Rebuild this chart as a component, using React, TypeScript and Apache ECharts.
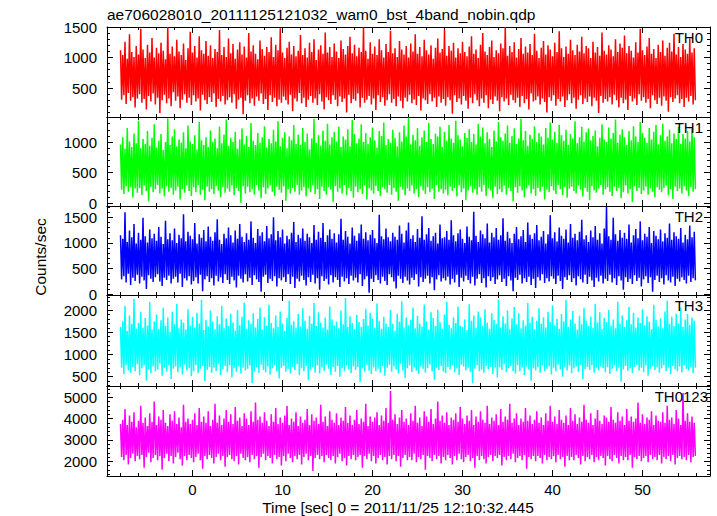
import React, { useEffect, useRef } from 'react';
import * as echarts from 'echarts';

const TITLE = 'ae706028010_20111125121032_wam0_bst_4band_nobin.qdp';
const X_TITLE = 'Time [sec] 0 = 2011/11/25 12:10:32.445';
const Y_TITLE = 'Counts/sec';
const PANEL_LABELS = ['TH0', 'TH1', 'TH2', 'TH3', 'TH0123'];
const COLORS = ['#ff0000', '#00ff00', '#0000ff', '#00ffff', '#ff00ff'];

// time bins (seconds): first bin start and bin width
const T_START = -8;
const T_BIN = 0.125;
const X_MIN = -9.5;
const X_MAX = 57.5;
const X_STEP = 10;

const Y_MIN = [25, -45, -15, 290, 1310];
const Y_MAX = [1500, 1410, 1720, 2340, 5530];
const Y_STEP = [500, 500, 500, 500, 1000];

const TH0 = [
  1120, 310, 1040, 380, 1260, 240, 980, 420, 1380, 290, 1090, 350, 1010, 180, 1190, 330,
  1050, 400, 1470, 260, 1130, 320, 990, 150, 1210, 370, 1080, 280, 1320, 410, 1000, 230,
  1160, 340, 1070, 90, 1240, 300, 1110, 390, 970, 250, 1500, 330, 1060, 200, 1180, 430,
  1020, 290, 1290, 360, 1100, 170, 1040, 310, 1230, 400, 960, 260, 1150, 340, 1420, 220,
  1080, 380, 1190, 280, 1000, 330, 1350, 130, 1120, 390, 1060, 300, 1270, 240, 1030, 350,
  1200, 270, 990, 410, 1140, 190, 1090, 320, 1450, 280, 1040, 370, 1170, 230, 1010, 300,
  1310, 350, 1070, 260, 1220, 400, 980, 160, 1130, 310, 1250, 340, 1050, 70, 1180, 290,
  1000, 380, 1400, 250, 1100, 330, 1200, 210, 1060, 360, 970, 290, 1280, 410, 1140, 240,
  1030, 320, 1170, 140, 1090, 380, 1330, 270, 1010, 340, 1210, 200, 1120, 310, 1480, 260,
  1080, 360, 990, 300, 1160, 230, 1260, 390, 1050, 120, 1190, 330, 1020, 280, 1110, 420,
  1370, 250, 1040, 340, 1150, 190, 1000, 310, 1240, 370, 1090, 260, 1300, 330, 960, 220,
  1130, 400, 1200, 280, 1060, 150, 1410, 350, 1080, 300, 1170, 240, 1010, 380, 1230, 310,
  1100, 200, 990, 360, 1280, 270, 1140, 330, 1050, 100, 1190, 390, 1340, 250, 1070, 320,
  1210, 290, 1020, 410, 1160, 180, 1090, 340, 1490, 260, 1110, 310, 980, 370, 1250, 230,
  1060, 330, 1180, 140, 1040, 380, 1300, 270, 1120, 350, 1000, 210, 1220, 300, 1090, 400,
  1440, 260, 1070, 320, 1150, 200, 1010, 360, 1270, 290, 1130, 170, 1050, 340, 1190, 280,
  1000, 390, 1230, 250, 1100, 310, 1380, 220, 1060, 370, 1170, 130, 1020, 330, 1290, 300,
  1120, 240, 1050, 400, 1200, 280, 980, 340, 1160, 190, 1310, 360, 1080, 260, 1140, 320,
  1460, 210, 1030, 350, 1190, 300, 1110, 80, 1240, 380, 1000, 270, 1150, 330, 1070, 230,
  1260, 370, 1090, 290, 1020, 160, 1180, 340, 1350, 250, 1060, 400, 1130, 300, 990, 200,
  1210, 330, 1400, 260, 1100, 380, 1040, 170, 1170, 310, 1280, 240, 1010, 360, 1120, 290,
  1070, 120, 1230, 350, 1150, 280, 1500, 330, 1030, 220, 1190, 390, 1090, 300, 1250, 260,
  1000, 340, 1140, 190, 1320, 370, 1060, 250, 1180, 320, 1080, 150, 1220, 410, 1040, 280,
  1390, 300, 1110, 360, 990, 230, 1160, 330, 1270, 270, 1050, 100, 1200, 350, 1130, 290,
  1020, 380, 1240, 210, 1090, 320, 1430, 280, 1150, 360, 1010, 190, 1180, 300, 1060, 400,
  1290, 250, 1120, 340, 1040, 160, 1210, 310, 1100, 380, 1340, 240, 1070, 330, 1190, 270,
  1150, 360, 990, 200, 1260, 340, 1080, 290, 1170, 90, 1030, 370, 1410, 260, 1110, 320,
  1050, 280, 1200, 350, 1130, 230, 1020, 390, 1300, 300, 1090, 180, 1230, 340, 1160, 250,
  1360, 310, 1070, 140, 1190, 370, 1110, 280, 1000, 330, 1250, 220, 1080, 400, 1470, 290,
  1120, 350, 1040, 260, 1180, 320, 1320, 170, 1060, 380, 1140, 300, 990, 240, 1210, 340,
  1090, 210, 1280, 360, 1030, 290, 1160, 110, 1240, 350, 1100, 270, 1390, 330, 1050, 380,
  1170, 250, 1010, 320, 1220, 190, 1130, 340, 1060, 280, 1310, 370, 1080, 230, 1150, 300,
];

const TH1 = [
  960, 220, 1080, 150, 890, 280, 1230, 190, 1010, 260, 920, 90, 1140, 240, 980, 170,
  1350, 250, 900, 130, 1050, 290, 970, 200, 1180, 30, 940, 270, 1070, 180, 1290, 230,
  910, 300, 1020, 160, 1130, 240, 870, 110, 1000, 280, 1390, 190, 950, 250, 1090, 140,
  1210, 210, 930, 270, 1040, 60, 990, 230, 1160, 170, 900, 290, 1270, 200, 1010, 120,
  970, 260, 1110, 180, 880, 300, 1330, 140, 1030, 220, 950, 50, 1080, 270, 920, 190,
  1190, 230, 1000, 150, 1060, 280, 900, 210, 1250, 100, 980, 260, 1120, 170, 1370, 240,
  940, 190, 1070, 290, 1000, 130, 1170, 250, 890, 200, 1040, 10, 1220, 280, 960, 160,
  1100, 270, 920, 180, 1310, 230, 1020, 140, 950, 300, 1150, 210, 990, 80, 1080, 260,
  1260, 150, 910, 240, 1050, 290, 980, 190, 1200, 120, 1010, 270, 1340, 220, 930, 170,
  1070, 280, 1160, 40, 900, 230, 1090, 160, 1030, 250, 1280, 190, 970, 300, 1120, 140,
  950, 210, 1230, 260, 1000, 110, 1140, 240, 880, 180, 1060, 290, 1380, 150, 990, 230,
  1110, 70, 940, 270, 1190, 200, 1020, 140, 1300, 260, 960, 220, 1080, 20, 1170, 280,
  1010, 190, 1250, 240, 920, 160, 1090, 300, 1040, 130, 1210, 250, 930, 200, 1360, 90,
  1130, 270, 980, 180, 1060, 230, 1290, 150, 1000, 290, 1150, 60, 970, 240, 1080, 210,
  1240, 160, 1030, 280, 910, 200, 1180, 120, 1100, 260, 1320, 230, 950, 170, 1050, 300,
  990, 140, 1200, 250, 1070, 190, 930, 40, 1160, 270, 1010, 220, 1270, 130, 1090, 240,
  1400, 200, 960, 290, 1120, 160, 1030, 230, 1230, 100, 940, 280, 1080, 210, 1190, 150,
  1000, 260, 1310, 180, 1050, 240, 970, 70, 1140, 300, 1090, 190, 1250, 230, 920, 160,
  1170, 220, 1020, 130, 1280, 270, 1060, 200, 990, 250, 1350, 110, 1110, 290, 1040, 180,
  930, 240, 1150, 50, 1070, 210, 1210, 280, 1000, 170, 1130, 230, 960, 140, 1300, 260,
  1090, 190, 1240, 300, 980, 120, 1160, 240, 1050, 210, 920, 80, 1190, 270, 1010, 150,
  1330, 230, 1080, 180, 1020, 290, 1140, 140, 1270, 250, 990, 200, 1100, 30, 1220, 260,
  970, 170, 1060, 280, 1380, 210, 1030, 100, 1180, 240, 940, 290, 1120, 160, 1050, 230,
  1260, 120, 1000, 250, 1150, 190, 1090, 270, 960, 60, 1230, 220, 1070, 180, 1320, 280,
  1040, 210, 1170, 150, 990, 300, 1280, 230, 1110, 130, 1020, 260, 1200, 90, 950, 240,
  1130, 270, 1060, 200, 1340, 160, 980, 290, 1080, 220, 1250, 110, 1010, 250, 1160, 190,
  1220, 50, 1030, 280, 1100, 210, 1190, 170, 930, 240, 1070, 300, 1290, 140, 1040, 230,
  1000, 260, 1240, 190, 1060, 120, 1150, 270, 1370, 200, 990, 250, 1120, 80, 1210, 180,
  1080, 290, 950, 160, 1180, 230, 1030, 20, 1260, 280, 1090, 200, 1000, 250, 1330, 150,
  1150, 210, 1070, 270, 990, 140, 1230, 240, 1040, 190, 1170, 100, 1280, 260, 960, 220,
  1110, 180, 1300, 250, 1020, 290, 1090, 130, 1200, 230, 980, 70, 1140, 270, 1050, 200,
  1250, 240, 970, 160, 1130, 280, 1060, 210, 1180, 120, 1010, 260, 1220, 190, 1080, 230,
];

const TH2 = [
  1150, 290, 1080, 350, 1600, 230, 1020, 400, 1240, 180, 1110, 320, 1370, 260, 990, 380,
  1200, 210, 1060, 340, 1490, 270, 1130, 100, 1010, 370, 1260, 300, 1090, 240, 1180, 330,
  1040, 390, 1310, 250, 1120, 160, 980, 320, 1430, 280, 1070, 360, 1190, 210, 1050, 300,
  1280, 340, 1000, 230, 1160, 400, 1090, 140, 1560, 310, 1030, 270, 1220, 350, 1140, 190,
  1070, 260, 1390, 330, 990, 210, 1170, 380, 1100, 60, 1250, 290, 1030, 350, 1320, 240,
  1120, 310, 1040, 170, 1210, 360, 1460, 250, 1060, 330, 980, 220, 1180, 390, 1090, 280,
  1300, 200, 1150, 340, 1010, 270, 1240, 130, 1080, 360, 1370, 300, 1120, 230, 1020, 390,
  1190, 250, 1060, 320, 1420, 180, 1100, 370, 1000, 290, 1270, 240, 1140, 50, 1210, 340,
  1030, 380, 1330, 220, 1090, 300, 1170, 260, 1500, 350, 1050, 150, 1230, 310, 1110, 270,
  1260, 330, 990, 240, 1140, 390, 1070, 200, 1200, 340, 1410, 120, 1020, 300, 1160, 250,
  1090, 360, 1280, 280, 1040, 170, 1180, 330, 1110, 240, 1000, 380, 1350, 210, 1060, 310,
  1220, 90, 1100, 350, 1390, 260, 1020, 300, 1150, 190, 1260, 370, 1080, 230, 1190, 330,
  1010, 280, 1170, 140, 1470, 340, 1060, 250, 1230, 310, 1120, 200, 990, 360, 1300, 270,
  1140, 320, 1040, 230, 1190, 390, 1360, 160, 1080, 290, 1210, 350, 1050, 30, 1160, 300,
  1250, 240, 1090, 370, 1000, 280, 1550, 210, 1130, 340, 1070, 260, 1280, 180, 1110, 390,
  1030, 330, 1200, 250, 1120, 110, 1060, 360, 1340, 300, 1180, 220, 1010, 340, 1240, 270,
  1400, 190, 1080, 320, 1150, 280, 1020, 390, 1270, 150, 1100, 330, 1520, 240, 1060, 300,
  1170, 360, 1290, 210, 1040, 330, 1130, 80, 1200, 290, 990, 370, 1360, 250, 1090, 310,
  1110, 270, 1230, 340, 1060, 190, 1440, 300, 1150, 230, 1030, 380, 1190, 140, 1260, 320,
  1080, 250, 1000, 360, 1320, 280, 1120, 210, 1050, 340, 1610, 170, 1140, 300, 1020, 390,
  1240, 220, 1170, 310, 1090, 130, 1380, 350, 1010, 260, 1200, 330, 1110, 200, 1290, 290,
  1060, 370, 1150, 240, 1480, 300, 1040, 160, 1220, 350, 1090, 270, 1000, 60, 1180, 320,
  1310, 280, 1070, 380, 1130, 210, 1250, 310, 1020, 240, 1400, 340, 1160, 180, 1080, 300,
  1190, 120, 1350, 330, 1050, 270, 1120, 390, 1230, 220, 990, 310, 1170, 250, 1540, 350,
  1090, 300, 1210, 200, 1030, 360, 1300, 260, 1140, 100, 1080, 330, 1260, 280, 1010, 370,
  1370, 240, 1100, 310, 1180, 170, 1050, 350, 1220, 290, 1450, 230, 1070, 380, 1150, 200,
  1020, 340, 1240, 270, 1110, 140, 1330, 320, 1060, 250, 1190, 360, 990, 210, 1280, 300,
  1700, 260, 1130, 380, 1060, 230, 1490, 310, 1170, 180, 1040, 350, 1250, 270, 1100, 90,
  1200, 330, 1080, 240, 1360, 300, 1010, 200, 1150, 370, 1270, 260, 1090, 320, 1420, 150,
  1050, 290, 1180, 350, 1120, 220, 1310, 330, 1000, 50, 1230, 280, 1140, 360, 1070, 240,
  1260, 310, 1030, 190, 1190, 370, 1100, 270, 1380, 230, 1060, 340, 1210, 160, 1130, 300,
  1080, 250, 1290, 330, 1010, 280, 1160, 210, 1070, 360, 1340, 240, 1110, 310, 1220, 270,
];

const TH3 = [
  1620, 700, 1750, 560, 2100, 760, 1530, 640, 1880, 590, 1690, 720, 2250, 620, 1580, 780,
  1710, 540, 1960, 690, 1600, 750, 1820, 410, 1650, 670, 2180, 580, 1560, 730, 1740, 620,
  1900, 660, 1580, 790, 1770, 520, 2050, 700, 1640, 610, 1830, 750, 1510, 450, 1960, 680,
  1680, 730, 2140, 600, 1590, 710, 1790, 550, 1720, 770, 1560, 640, 2020, 690, 1650, 510,
  1850, 620, 1610, 760, 1940, 580, 1700, 680, 2230, 740, 1550, 400, 1780, 650, 1630, 720,
  1990, 590, 1740, 700, 1570, 630, 1860, 780, 1680, 530, 2090, 670, 1600, 740, 1810, 600,
  1640, 760, 1920, 480, 1720, 690, 1540, 610, 2000, 730, 1660, 570, 1850, 700, 2170, 640,
  1580, 680, 1770, 750, 1690, 360, 1930, 620, 1610, 710, 1800, 590, 2060, 770, 1560, 650,
  1840, 600, 1650, 730, 2120, 550, 1710, 690, 1590, 760, 1880, 620, 1620, 460, 1970, 700,
  1700, 740, 1530, 610, 1820, 680, 2210, 580, 1670, 720, 1750, 650, 1600, 780, 1910, 530,
  1630, 690, 2040, 620, 1760, 740, 1580, 420, 1870, 660, 1690, 710, 2160, 590, 1640, 760,
  1950, 570, 1720, 700, 1610, 630, 1830, 770, 1560, 680, 2080, 540, 1790, 720, 1660, 610,
  1740, 740, 1590, 500, 1990, 690, 1680, 620, 2270, 750, 1620, 660, 1860, 580, 1710, 730,
  1570, 650, 1890, 720, 1730, 380, 1620, 690, 1800, 610, 2030, 760, 1650, 640, 1940, 560,
  1810, 710, 1600, 630, 2150, 680, 1760, 590, 1580, 740, 1850, 520, 1700, 700, 1620, 770,
  2000, 610, 1690, 730, 1540, 660, 1920, 570, 1740, 790, 2200, 640, 1610, 470, 1830, 690,
  1660, 750, 1780, 600, 2060, 710, 1590, 640, 1870, 560, 1700, 730, 1630, 680, 2120, 590,
  1750, 690, 1560, 770, 1950, 620, 1820, 430, 1640, 700, 2010, 650, 1730, 740, 1580, 610,
  1900, 580, 2190, 720, 1670, 660, 1590, 750, 1840, 600, 1710, 690, 2080, 530, 1650, 770,
  1620, 730, 1790, 640, 1550, 700, 2130, 610, 1760, 350, 1880, 680, 1600, 760, 1970, 620,
  1840, 660, 1640, 590, 2020, 740, 1720, 670, 1580, 720, 1930, 560, 1780, 700, 1690, 480,
  2240, 710, 1610, 650, 1860, 780, 1700, 600, 1990, 690, 1570, 740, 1810, 630, 2070, 570,
  1680, 760, 1930, 620, 1590, 700, 1770, 540, 1650, 730, 2160, 660, 1720, 410, 1850, 690,
  1570, 640, 1760, 710, 2040, 590, 1690, 750, 1840, 620, 1610, 680, 1960, 730, 1730, 550,
  2110, 700, 1660, 620, 1800, 770, 1580, 660, 1910, 500, 1740, 710, 2230, 640, 1620, 750,
  1790, 580, 1980, 690, 1700, 730, 1560, 610, 1870, 760, 1680, 440, 2050, 670, 1760, 720,
  1640, 650, 1850, 760, 1600, 590, 2140, 700, 1720, 640, 1950, 730, 1580, 690, 1820, 600,
  1730, 710, 2000, 560, 1650, 680, 1790, 750, 1590, 620, 2190, 700, 1700, 390, 1880, 660,
  1620, 740, 1770, 630, 2070, 690, 1680, 580, 1940, 720, 1610, 760, 1830, 640, 1710, 700,
  2020, 600, 1660, 750, 1860, 520, 1740, 680, 1570, 730, 2120, 650, 1780, 710, 1630, 590,
  1810, 690, 1590, 760, 1970, 630, 2210, 700, 1690, 560, 1850, 740, 1640, 670, 1920, 620,
  1700, 730, 2060, 600, 1620, 750, 1790, 680, 1910, 640, 1670, 710, 1830, 580, 1760, 700,
];

const TH0123 = [
  3750, 2200, 3950, 2050, 4450, 2300, 3700, 1850, 4150, 2150, 3850, 2350, 4300, 2000, 3600, 2250,
  3900, 2100, 4600, 2300, 3800, 1700, 4050, 2200, 3650, 2400, 4250, 1950, 3850, 2150, 4800, 2300,
  3700, 2050, 4100, 2250, 3950, 1600, 4400, 2150, 3800, 2350, 3650, 2000, 4200, 2250, 3900, 1900,
  4350, 2200, 3750, 2400, 4050, 2100, 3600, 1800, 4650, 2250, 3850, 2050, 4000, 2300, 3750, 2150,
  3950, 1950, 4250, 2200, 3700, 2350, 4500, 2050, 3850, 1650, 4100, 2250, 3800, 2100, 4350, 2300,
  3650, 2150, 3950, 1900, 4700, 2200, 3800, 2350, 4150, 2050, 3700, 2250, 4000, 1750, 4400, 2200,
  3850, 2300, 4200, 2100, 3750, 2000, 4550, 2250, 3900, 1850, 4050, 2350, 3650, 2150, 4250, 2050,
  4000, 2200, 3700, 1950, 4350, 2300, 3850, 2100, 4750, 2250, 3950, 1700, 4100, 2200, 3800, 2350,
  4300, 2050, 3900, 2250, 3650, 2150, 4200, 1900, 3850, 2300, 4500, 2100, 3750, 2200, 4050, 1800,
  3800, 2250, 4150, 2000, 4600, 2350, 3700, 2150, 4000, 1950, 3850, 2250, 4300, 2100, 3650, 2300,
  4100, 1850, 3800, 2200, 3950, 2350, 4450, 2050, 3700, 2250, 4200, 1550, 3900, 2150, 4050, 2300,
  3750, 2100, 4650, 2250, 3850, 1950, 4100, 2300, 3650, 2150, 4350, 2050, 3950, 2250, 3800, 1900,
  4250, 2200, 3700, 2350, 4050, 2000, 3900, 2150, 4550, 1800, 3800, 2250, 4150, 2100, 3700, 2300,
  3950, 2050, 4400, 2200, 3750, 2300, 4000, 1700, 3850, 2250, 4700, 2100, 3650, 2350, 4100, 2000,
  3850, 2250, 4050, 1900, 4300, 2150, 3700, 2300, 4150, 2050, 3900, 2200, 4500, 1850, 3800, 2250,
  5300, 2100, 3950, 2300, 4200, 2000, 3750, 2250, 4050, 1750, 4400, 2150, 3850, 2300, 4000, 2050,
  3700, 2200, 4250, 2050, 3900, 2350, 4600, 1950, 3800, 2200, 4050, 2100, 3650, 2300, 4350, 1600,
  4100, 2250, 3850, 2150, 4450, 2000, 3750, 2300, 4000, 2100, 4800, 2250, 3900, 1900, 4150, 2200,
  3800, 2050, 4300, 2300, 3700, 2150, 4050, 1850, 3950, 2250, 4250, 2050, 3850, 2350, 4550, 2100,
  4000, 1950, 3750, 2200, 4150, 2300, 3900, 2000, 4400, 2150, 3700, 1700, 4100, 2250, 3850, 2050,
  4350, 2250, 3950, 2100, 3800, 1900, 4600, 2200, 3750, 2300, 4050, 2000, 3900, 2250, 4200, 2150,
  3700, 2300, 4450, 1800, 3850, 2200, 4100, 2050, 3950, 2250, 4700, 2100, 3800, 2350, 4000, 1950,
  4250, 2150, 3700, 2250, 4000, 2050, 3850, 2300, 4500, 1650, 3900, 2200, 4150, 2100, 3750, 2250,
  3950, 2000, 4350, 2250, 3800, 2150, 4050, 1900, 3700, 2300, 4250, 2050, 3900, 2200, 4600, 2100,
  3850, 2250, 4100, 1950, 3750, 2300, 4400, 2100, 3950, 2200, 3800, 1750, 4150, 2250, 3700, 2050,
  4500, 2200, 3900, 2050, 4200, 2300, 3750, 2150, 4050, 1850, 3850, 2250, 4650, 2000, 3950, 2200,
  3800, 2100, 4250, 2300, 3700, 1950, 4000, 2200, 4400, 2050, 3900, 2250, 3750, 2150, 4150, 1800,
  4050, 2250, 3850, 2100, 4550, 2000, 3950, 2300, 3800, 2150, 4300, 1900, 3900, 2250, 4100, 2050,
  3700, 2200, 4450, 2050, 3900, 2300, 4100, 1700, 3850, 2200, 4000, 2100, 4750, 2250, 3800, 2000,
  4200, 2150, 3750, 2250, 4050, 1950, 3950, 2300, 4350, 2100, 3700, 2200, 4150, 2050, 3900, 2300,
  3850, 1900, 4300, 2200, 3800, 2100, 4600, 2250, 3950, 2000, 4050, 2300, 3750, 1850, 4400, 2150,
  4000, 2250, 3700, 2100, 5200, 2200, 3900, 2050, 4250, 2300, 3850, 1950, 4100, 2200, 3800, 2250,
];

const SERIES = [TH0, TH1, TH2, TH3, TH0123];

const FONT = '"Liberation Sans", Arial, Helvetica, sans-serif';

export default function App() {
  const ref = useRef<HTMLDivElement>(null);

  useEffect(() => {
    if (!ref.current) return;
    const chart = echarts.init(ref.current, null, { renderer: 'svg' });

    const LEFT = 107;
    const RIGHT = 7;
    const TOPS = [27, 117, 206, 295, 386];
    const BOTTOM = 476;

    const grids: any[] = [];
    const xAxes: any[] = [];
    const yAxes: any[] = [];
    const series: any[] = [];
    const graphics: any[] = [];

    const tickStyle = { color: '#000', width: 1 };

    for (let i = 0; i < 5; i++) {
      const top = TOPS[i];
      const bottom = i < 4 ? TOPS[i + 1] : BOTTOM;
      grids.push({ left: LEFT, right: RIGHT, top, height: bottom - top, containLabel: false });

      ['bottom', 'top'].forEach((pos) => {
        xAxes.push({
          gridIndex: i,
          type: 'value',
          position: pos,
          min: X_MIN,
          max: X_MAX,
          minInterval: X_STEP,
          maxInterval: X_STEP,
          axisLine: { show: true, onZero: false, lineStyle: { color: '#000', width: 1 } },
          axisTick: { show: true, inside: true, length: 6, lineStyle: tickStyle },
          minorTick: { show: true, splitNumber: 5, length: 3, lineStyle: tickStyle },
          splitLine: { show: false },
          axisLabel: {
            show: i === 4 && pos === 'bottom',
            margin: 6,
            color: '#000',
            fontSize: 15,
            fontFamily: FONT,
            formatter: (v: number) => (Math.abs(v % X_STEP) < 1e-9 ? String(v) : ''),
          },
        });
      });

      ['left', 'right'].forEach((pos) => {
        yAxes.push({
          gridIndex: i,
          type: 'value',
          position: pos,
          min: Y_MIN[i],
          max: Y_MAX[i],
          minInterval: Y_STEP[i],
          maxInterval: Y_STEP[i],
          axisLine: { show: true, onZero: false, lineStyle: { color: '#000', width: 1 } },
          axisTick: { show: true, inside: true, length: 6, lineStyle: tickStyle },
          minorTick: { show: true, splitNumber: 5, length: 3, lineStyle: tickStyle },
          splitLine: { show: false },
          axisLabel: {
            show: pos === 'left',
            margin: 10,
            color: '#000',
            fontSize: 15,
            fontFamily: FONT,
            formatter: (v: number) => (Math.abs(v % Y_STEP[i]) < 1e-9 ? String(v) : ''),
          },
        });
      });

      series.push({
        type: 'line',
        xAxisIndex: i * 2,
        yAxisIndex: i * 2,
        data: SERIES[i].map((v, k) => [T_START + k * T_BIN, v]),
        showSymbol: false,
        symbol: 'none',
        clip: true,
        lineStyle: { color: COLORS[i], width: 1.5 },
        itemStyle: { color: COLORS[i] },
        silent: true,
      });

      graphics.push({
        type: 'text',
        right: i === 4 ? 9 : 14,
        top: top + 3,
        style: {
          text: PANEL_LABELS[i],
          fill: '#000',
          font: `15px ${FONT}`,
        },
        z: 100,
      });
    }

    graphics.push({
      type: 'text',
      left: 107,
      top: 6,
      style: { text: TITLE, fill: '#000', font: `15.5px ${FONT}` },
    });
    graphics.push({
      type: 'text',
      x: 398,
      y: 507,
      style: {
        text: X_TITLE,
        fill: '#000',
        font: `15.5px ${FONT}`,
        align: 'center',
        verticalAlign: 'middle',
      },
    });
    graphics.push({
      type: 'text',
      x: 40,
      y: 257,
      rotation: Math.PI / 2,
      style: {
        text: Y_TITLE,
        fill: '#000',
        font: `15.5px ${FONT}`,
        align: 'center',
        verticalAlign: 'middle',
      },
    });

    chart.setOption({
      animation: false,
      backgroundColor: '#fff',
      grid: grids,
      xAxis: xAxes,
      yAxis: yAxes,
      series,
      graphic: graphics,
    });

    return () => chart.dispose();
  }, []);

  return (
    <div
      ref={ref}
      style={{ position: 'fixed', left: 0, top: 0, width: 717, height: 516 }}
    />
  );
}
